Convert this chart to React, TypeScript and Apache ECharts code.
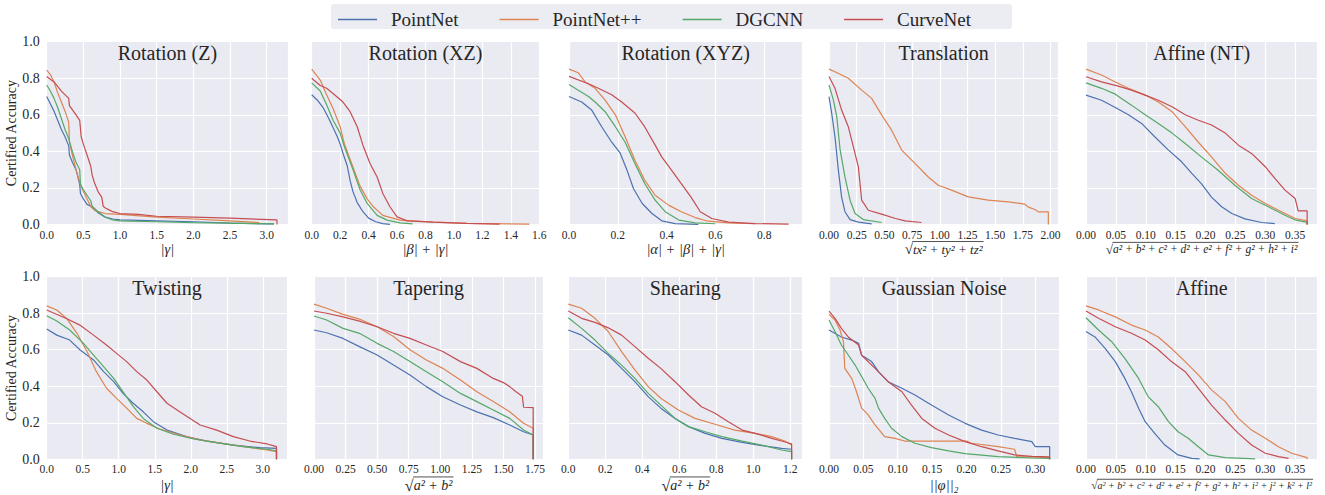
import React, { useEffect, useRef } from 'react';
import * as echarts from 'echarts';

const FONT = 'Liberation Serif';
const INK = '#262626';
const BG = '#EAEAF2';

const MODELS = ['PointNet', 'PointNet++', 'DGCNN', 'CurveNet'];
const COLORS = ['#4C72B0', '#DD8452', '#55A868', '#C44E52'];

const TITLES = [
  'Rotation (Z)', 'Rotation (XZ)', 'Rotation (XYZ)', 'Translation', 'Affine (NT)',
  'Twisting', 'Tapering', 'Shearing', 'Gaussian Noise', 'Affine',
];
const X_MAX = [3.29, 1.6, 0.956, 2.07, 0.387, 3.34, 1.816, 1.265, 0.335, 0.387];
const X_INTERVAL = [0.5, 0.2, 0.2, 0.25, 0.05, 0.5, 0.25, 0.2, 0.05, 0.05];
const X_DECIMALS = [1, 1, 1, 2, 2, 1, 2, 1, 2, 2];
const Y_TICKS = [0, 0.2, 0.4, 0.6, 0.8, 1.0];
const Y_LABEL = 'Certified Accuracy';

const X_LABELS = [
  { text: '|γ|', sqrt: false, size: 14.5 },
  { text: '|β| + |γ|', sqrt: false, size: 14.5 },
  { text: '|α| + |β| + |γ|', sqrt: false, size: 14.5 },
  { text: 'tx² + ty² + tz²', sqrt: true, size: 13 },
  { text: 'a² + b² + c² + d² + e² + f² + g² + h² + i²', sqrt: true, size: 11.5 },
  { text: '|γ|', sqrt: false, size: 14.5 },
  { text: 'a² + b²', sqrt: true, size: 14 },
  { text: 'a² + b²', sqrt: true, size: 14 },
  { text: '||φ||₂', sqrt: false, size: 14.5 },
  { text: 'a² + b² + c² + d² + e² + f² + g² + h² + i² + j² + k² + l²', sqrt: true, size: 10 },
];

// ---- Rotation (Z)
const rotZ_pn = [[0,0.70],[0.05,0.66],[0.1,0.62],[0.15,0.57],[0.2,0.52],[0.25,0.48],[0.3,0.43],[0.31,0.38],[0.35,0.34],[0.4,0.30],[0.45,0.22],[0.46,0.17],[0.5,0.14],[0.55,0.11],[0.6,0.10],[0.65,0.08],[0.7,0.065],[0.8,0.04],[0.9,0.03],[1.0,0.025],[1.5,0.02],[2.0,0.015],[2.5,0.008],[3.1,0.003]];
const rotZ_pnpp = [[0,0.845],[0.05,0.82],[0.1,0.78],[0.15,0.72],[0.2,0.67],[0.25,0.62],[0.3,0.56],[0.31,0.45],[0.35,0.38],[0.4,0.30],[0.45,0.23],[0.5,0.18],[0.55,0.14],[0.6,0.10],[0.65,0.08],[0.7,0.07],[0.8,0.06],[1.0,0.055],[1.5,0.04],[2.0,0.03],[2.5,0.02],[2.9,0.01]];
const rotZ_dg = [[0,0.763],[0.05,0.73],[0.1,0.69],[0.15,0.64],[0.2,0.58],[0.25,0.52],[0.3,0.47],[0.35,0.40],[0.4,0.34],[0.45,0.30],[0.46,0.22],[0.5,0.19],[0.55,0.16],[0.6,0.13],[0.62,0.10],[0.7,0.07],[0.8,0.04],[0.9,0.025],[1.0,0.02],[1.5,0.015],[2.0,0.01],[2.5,0.007],[3.1,0.003]];
const rotZ_cn = [[0,0.81],[0.1,0.78],[0.2,0.73],[0.3,0.69],[0.31,0.65],[0.4,0.60],[0.45,0.57],[0.47,0.48],[0.5,0.44],[0.55,0.38],[0.6,0.32],[0.62,0.27],[0.65,0.23],[0.7,0.18],[0.75,0.15],[0.77,0.10],[0.8,0.09],[0.85,0.08],[0.9,0.07],[1.0,0.06],[1.25,0.055],[1.5,0.045],[2.0,0.04],[2.5,0.035],[3.14,0.025],[3.14,0]];

// ---- Rotation (XZ)
const rotXZ_pn = [[0,0.71],[0.04,0.68],[0.08,0.64],[0.12,0.58],[0.15,0.53],[0.18,0.48],[0.2,0.44],[0.22,0.39],[0.25,0.32],[0.27,0.24],[0.29,0.18],[0.32,0.12],[0.36,0.07],[0.4,0.035],[0.45,0.015],[0.5,0.005],[0.55,0.001]];
const rotXZ_pnpp = [[0,0.85],[0.06,0.79],[0.105,0.71],[0.15,0.635],[0.2,0.535],[0.23,0.44],[0.29,0.315],[0.34,0.21],[0.39,0.14],[0.43,0.10],[0.5,0.05],[0.62,0.024],[0.85,0.013],[1.09,0.006],[1.53,0.002]];
const rotXZ_dg = [[0,0.775],[0.06,0.73],[0.105,0.655],[0.15,0.57],[0.2,0.50],[0.23,0.425],[0.29,0.30],[0.34,0.19],[0.39,0.115],[0.46,0.05],[0.53,0.024],[0.62,0.009],[0.71,0.003]];
const rotXZ_cn = [[0,0.80],[0.06,0.76],[0.105,0.745],[0.15,0.717],[0.22,0.67],[0.27,0.617],[0.32,0.535],[0.36,0.434],[0.41,0.334],[0.46,0.26],[0.5,0.17],[0.55,0.097],[0.6,0.042],[0.67,0.02],[0.855,0.013],[1.09,0.006],[1.32,0.002]];

// ---- Rotation (XYZ)
const rotXYZ_pn = [[0,0.70],[0.052,0.67],[0.093,0.626],[0.134,0.535],[0.175,0.45],[0.21,0.39],[0.237,0.30],[0.264,0.197],[0.3,0.115],[0.34,0.06],[0.38,0.02],[0.435,0.005],[0.53,0.001]];
const rotXYZ_pnpp = [[0,0.85],[0.038,0.83],[0.066,0.78],[0.107,0.745],[0.148,0.68],[0.19,0.6],[0.23,0.48],[0.27,0.352],[0.31,0.243],[0.353,0.16],[0.408,0.106],[0.46,0.07],[0.517,0.038],[0.57,0.018],[0.654,0.009],[0.76,0.004]];
const rotXYZ_dg = [[0,0.766],[0.038,0.735],[0.08,0.70],[0.107,0.67],[0.148,0.617],[0.19,0.535],[0.23,0.45],[0.27,0.334],[0.31,0.224],[0.353,0.133],[0.394,0.07],[0.45,0.024],[0.517,0.009],[0.6,0.004]];
const rotXYZ_cn = [[0,0.81],[0.08,0.77],[0.12,0.745],[0.175,0.71],[0.216,0.67],[0.27,0.61],[0.31,0.535],[0.353,0.434],[0.38,0.37],[0.42,0.297],[0.46,0.224],[0.5,0.15],[0.538,0.07],[0.585,0.033],[0.654,0.013],[0.763,0.005],[0.9,0.002]];

// ---- Translation
const trans_pn = [[0,0.70],[0.024,0.61],[0.054,0.48],[0.084,0.30],[0.114,0.15],[0.144,0.07],[0.19,0.027],[0.265,0.013],[0.385,0.003]];
const trans_pnpp = [[0,0.85],[0.054,0.836],[0.174,0.8],[0.295,0.735],[0.385,0.69],[0.475,0.6],[0.565,0.516],[0.656,0.407],[0.776,0.334],[0.896,0.26],[0.986,0.215],[1.107,0.188],[1.257,0.151],[1.437,0.133],[1.618,0.124],[1.768,0.111],[1.8,0.095],[1.86,0.082],[1.89,0.069],[1.98,0.069],[1.98,0]];
const trans_dg = [[0,0.763],[0.04,0.68],[0.07,0.59],[0.1,0.41],[0.144,0.26],[0.19,0.133],[0.235,0.06],[0.31,0.027],[0.475,0.011]];
const trans_cn = [[0,0.81],[0.054,0.745],[0.114,0.626],[0.174,0.535],[0.22,0.425],[0.265,0.315],[0.295,0.133],[0.355,0.078],[0.475,0.057],[0.6,0.033],[0.686,0.02],[0.836,0.011]];

// ---- Affine (NT)
const affNT_pn = [[0,0.708],[0.026,0.68],[0.049,0.64],[0.071,0.6],[0.093,0.553],[0.115,0.48],[0.138,0.407],[0.16,0.343],[0.177,0.28],[0.193,0.224],[0.21,0.15],[0.227,0.097],[0.244,0.06],[0.266,0.031],[0.294,0.011],[0.316,0.005]];
const affNT_pnpp = [[0,0.85],[0.026,0.818],[0.049,0.78],[0.071,0.745],[0.099,0.708],[0.121,0.67],[0.144,0.617],[0.166,0.535],[0.188,0.45],[0.21,0.37],[0.233,0.28],[0.255,0.215],[0.277,0.16],[0.3,0.115],[0.322,0.078],[0.35,0.033],[0.37,0.02],[0.37,0]];
const affNT_dg = [[0,0.775],[0.026,0.745],[0.049,0.713],[0.076,0.653],[0.099,0.6],[0.121,0.553],[0.144,0.5],[0.166,0.443],[0.193,0.37],[0.221,0.297],[0.249,0.215],[0.277,0.142],[0.305,0.097],[0.333,0.051],[0.35,0.025],[0.37,0.012],[0.37,0]];
const affNT_cn = [[0,0.808],[0.026,0.78],[0.054,0.757],[0.076,0.735],[0.099,0.708],[0.121,0.68],[0.144,0.644],[0.166,0.6],[0.188,0.57],[0.21,0.544],[0.233,0.5],[0.255,0.434],[0.277,0.389],[0.3,0.316],[0.316,0.252],[0.333,0.188],[0.35,0.142],[0.355,0.075],[0.37,0.075],[0.37,0]];

// ---- Twisting
const twist_pn = [[0,0.713],[0.14,0.68],[0.32,0.653],[0.46,0.6],[0.65,0.544],[0.79,0.48],[0.93,0.425],[1.06,0.361],[1.2,0.307],[1.34,0.26],[1.48,0.206],[1.67,0.16],[1.94,0.124],[2.22,0.1],[2.59,0.078],[2.96,0.064],[3.19,0.06],[3.19,0]];
const twist_pnpp = [[0,0.84],[0.14,0.818],[0.28,0.77],[0.42,0.69],[0.56,0.59],[0.69,0.48],[0.83,0.389],[0.97,0.334],[1.11,0.28],[1.25,0.224],[1.39,0.197],[1.57,0.166],[1.85,0.133],[2.13,0.106],[2.59,0.078],[3.06,0.051],[3.19,0.042],[3.19,0]];
const twist_dg = [[0,0.786],[0.14,0.757],[0.32,0.708],[0.51,0.635],[0.65,0.571],[0.79,0.507],[0.93,0.443],[1.06,0.37],[1.2,0.29],[1.34,0.224],[1.53,0.17],[1.76,0.137],[2.04,0.111],[2.36,0.091],[2.73,0.069],[3.06,0.055],[3.19,0.046],[3.19,0]];
const twist_cn = [[0,0.818],[0.28,0.77],[0.46,0.735],[0.65,0.68],[0.83,0.626],[0.97,0.58],[1.11,0.535],[1.25,0.48],[1.39,0.434],[1.53,0.37],[1.67,0.307],[1.81,0.27],[1.99,0.224],[2.13,0.188],[2.36,0.16],[2.59,0.124],[2.82,0.1],[3.06,0.084],[3.19,0.069],[3.19,0]];

// ---- Tapering
const taper_pn = [[0,0.708],[0.1,0.693],[0.23,0.662],[0.36,0.617],[0.5,0.571],[0.63,0.516],[0.76,0.462],[0.89,0.398],[1.02,0.343],[1.16,0.297],[1.29,0.26],[1.42,0.228],[1.55,0.188],[1.66,0.151],[1.736,0.133],[1.736,0]];
const taper_pnpp = [[0,0.85],[0.1,0.827],[0.23,0.794],[0.36,0.768],[0.5,0.726],[0.63,0.672],[0.76,0.6],[0.89,0.544],[1.02,0.498],[1.16,0.434],[1.29,0.37],[1.42,0.316],[1.55,0.26],[1.66,0.197],[1.736,0.17],[1.736,0]];
const taper_dg = [[0,0.785],[0.1,0.763],[0.23,0.717],[0.36,0.69],[0.5,0.635],[0.63,0.59],[0.76,0.535],[0.89,0.48],[1.02,0.425],[1.16,0.361],[1.29,0.316],[1.42,0.27],[1.55,0.224],[1.66,0.16],[1.736,0.133],[1.736,0]];
const taper_cn = [[0,0.812],[0.1,0.8],[0.23,0.78],[0.36,0.757],[0.5,0.726],[0.63,0.69],[0.76,0.662],[0.89,0.626],[1.02,0.59],[1.16,0.535],[1.29,0.498],[1.42,0.443],[1.5,0.42],[1.55,0.398],[1.6,0.37],[1.65,0.345],[1.66,0.285],[1.736,0.283],[1.736,0]];

// ---- Shearing
const shear_pn = [[0,0.708],[0.072,0.68],[0.144,0.626],[0.216,0.571],[0.288,0.498],[0.36,0.425],[0.432,0.343],[0.5,0.28],[0.577,0.224],[0.65,0.179],[0.74,0.142],[0.83,0.115],[0.94,0.093],[1.045,0.075],[1.153,0.06],[1.207,0.055],[1.207,0]];
const shear_pnpp = [[0,0.85],[0.072,0.827],[0.144,0.772],[0.216,0.7],[0.288,0.59],[0.36,0.49],[0.432,0.398],[0.5,0.334],[0.595,0.27],[0.685,0.224],[0.793,0.192],[0.9,0.16],[1.01,0.142],[1.1,0.124],[1.17,0.1],[1.207,0.078],[1.207,0]];
const shear_dg = [[0,0.775],[0.072,0.717],[0.144,0.653],[0.216,0.58],[0.288,0.516],[0.36,0.443],[0.432,0.361],[0.5,0.297],[0.577,0.224],[0.65,0.179],[0.74,0.151],[0.83,0.124],[0.94,0.1],[1.045,0.078],[1.153,0.051],[1.207,0.042],[1.207,0]];
const shear_cn = [[0,0.812],[0.072,0.772],[0.144,0.75],[0.216,0.72],[0.288,0.68],[0.36,0.617],[0.432,0.553],[0.5,0.498],[0.577,0.425],[0.65,0.352],[0.72,0.288],[0.793,0.252],[0.865,0.206],[0.94,0.16],[1.01,0.142],[1.1,0.115],[1.153,0.1],[1.207,0.085],[1.207,0]];

// ---- Gaussian Noise
const noise_pn = [[0,0.708],[0.018,0.67],[0.033,0.653],[0.043,0.635],[0.0475,0.57],[0.062,0.535],[0.072,0.48],[0.086,0.425],[0.106,0.389],[0.125,0.352],[0.149,0.297],[0.174,0.243],[0.198,0.197],[0.222,0.16],[0.246,0.133],[0.27,0.115],[0.295,0.097],[0.3,0.069],[0.321,0.069],[0.321,0]];
const noise_pnpp = [[0,0.794],[0.0087,0.763],[0.016,0.708],[0.021,0.644],[0.023,0.498],[0.033,0.443],[0.04,0.37],[0.0475,0.28],[0.057,0.243],[0.067,0.188],[0.081,0.124],[0.096,0.115],[0.11,0.1],[0.2,0.1],[0.207,0.088],[0.246,0.069],[0.27,0.055],[0.273,0.015],[0.3,0.012],[0.319,0.009],[0.321,0]];
const noise_dg = [[0,0.763],[0.0087,0.7],[0.018,0.626],[0.028,0.571],[0.038,0.516],[0.0475,0.453],[0.057,0.389],[0.067,0.334],[0.072,0.28],[0.081,0.224],[0.091,0.17],[0.106,0.124],[0.125,0.088],[0.149,0.064],[0.174,0.046],[0.198,0.031],[0.246,0.015],[0.295,0.007],[0.321,0.005]];
const noise_cn = [[0,0.812],[0.0087,0.772],[0.018,0.717],[0.028,0.67],[0.043,0.626],[0.0475,0.57],[0.067,0.498],[0.086,0.425],[0.106,0.37],[0.12,0.297],[0.135,0.224],[0.154,0.17],[0.174,0.133],[0.198,0.097],[0.222,0.069],[0.246,0.046],[0.27,0.024],[0.295,0.016],[0.321,0.013],[0.321,0]];

// ---- Affine
const aff_pn = [[0,0.7],[0.015,0.67],[0.032,0.607],[0.049,0.535],[0.065,0.443],[0.076,0.37],[0.088,0.28],[0.099,0.206],[0.115,0.142],[0.132,0.078],[0.154,0.024],[0.177,0.005],[0.19,0.002]];
const aff_pnpp = [[0,0.84],[0.021,0.818],[0.049,0.78],[0.076,0.735],[0.099,0.708],[0.121,0.67],[0.143,0.607],[0.166,0.535],[0.188,0.462],[0.21,0.38],[0.233,0.316],[0.255,0.224],[0.277,0.16],[0.3,0.115],[0.322,0.069],[0.344,0.033],[0.37,0.009],[0.37,0]];
const aff_dg = [[0,0.775],[0.021,0.708],[0.043,0.644],[0.065,0.553],[0.088,0.443],[0.104,0.343],[0.121,0.288],[0.138,0.206],[0.154,0.151],[0.171,0.115],[0.188,0.069],[0.205,0.024],[0.233,0.009],[0.283,0.002]];
const aff_cn = [[0,0.812],[0.021,0.772],[0.049,0.726],[0.076,0.69],[0.099,0.653],[0.121,0.6],[0.143,0.535],[0.166,0.48],[0.188,0.389],[0.21,0.297],[0.233,0.215],[0.255,0.142],[0.277,0.078],[0.3,0.033],[0.322,0.015],[0.339,0.005]];

const PANEL_DATA = [
  [rotZ_pn, rotZ_pnpp, rotZ_dg, rotZ_cn],
  [rotXZ_pn, rotXZ_pnpp, rotXZ_dg, rotXZ_cn],
  [rotXYZ_pn, rotXYZ_pnpp, rotXYZ_dg, rotXYZ_cn],
  [trans_pn, trans_pnpp, trans_dg, trans_cn],
  [affNT_pn, affNT_pnpp, affNT_dg, affNT_cn],
  [twist_pn, twist_pnpp, twist_dg, twist_cn],
  [taper_pn, taper_pnpp, taper_dg, taper_cn],
  [shear_pn, shear_pnpp, shear_dg, shear_cn],
  [noise_pn, noise_pnpp, noise_dg, noise_cn],
  [aff_pn, aff_pnpp, aff_dg, aff_cn],
];

// layout (pixels)
const GRID_LEFT = [46.7, 311.7, 569, 829, 1086, 46.7, 314, 568.3, 829, 1086];
const GRID_RIGHT = [288, 539.3, 802.3, 1058.3, 1317.3, 287.3, 543.3, 802.3, 1059.3, 1317.3];
const ROW_TOP = [41.7, 276.7];
const ROW_HEIGHT = [182.8, 182.6];
const TITLE_Y = [52.7, 287.7];
const XNAME_Y = [249, 485];

function textWidth(text: string, size: number, italic: boolean): number {
  const ctx = document.createElement('canvas').getContext('2d');
  if (!ctx) return text.length * size * 0.5;
  ctx.font = `${italic ? 'italic ' : ''}${size}px "${FONT}"`;
  return ctx.measureText(text).width;
}

function buildOption() {
  const grids: any[] = [];
  const xAxes: any[] = [];
  const yAxes: any[] = [];
  const series: any[] = [];
  const graphics: any[] = [];

  graphics.push({
    type: 'rect', z: 0,
    shape: { x: 331, y: 4, width: 681, height: 25, r: 3 },
    style: { fill: '#ECECF3' },
  });

  for (let i = 0; i < 10; i++) {
    const row = i < 5 ? 0 : 1;
    const left = GRID_LEFT[i];
    const width = GRID_RIGHT[i] - GRID_LEFT[i];
    const cx = left + width / 2;
    grids.push({
      left, top: ROW_TOP[row], width, height: ROW_HEIGHT[row],
      show: true, backgroundColor: BG, borderWidth: 0, containLabel: false,
    });
    const ratio = X_MAX[i] / X_INTERVAL[i];
    const maxIsTick = Math.abs(ratio - Math.round(ratio)) < 1e-6;
    const dec = X_DECIMALS[i];
    xAxes.push({
      type: 'value', gridIndex: i, min: 0, max: X_MAX[i], interval: X_INTERVAL[i],
      axisLine: { show: false }, axisTick: { show: false },
      splitLine: { show: true, lineStyle: { color: '#ffffff', width: 1.2 } },
      axisLabel: {
        show: true, margin: 4, fontSize: 11.5, fontFamily: FONT, color: INK,
        showMaxLabel: maxIsTick, showMinLabel: true,
        formatter: (v: number) => v.toFixed(dec),
      },
    });
    const firstCol = i === 0 || i === 5;
    yAxes.push({
      type: 'value', gridIndex: i, min: 0, max: 1, interval: 0.2,
      axisLine: { show: false }, axisTick: { show: false },
      splitLine: { show: true, lineStyle: { color: '#ffffff', width: 1.2 } },
      axisLabel: {
        show: firstCol, margin: 7, fontSize: 14, fontFamily: FONT, color: INK,
        formatter: (v: number) => (Y_TICKS.some((t) => Math.abs(t - v) < 1e-9) ? v.toFixed(1) : ''),
      },
      name: firstCol ? Y_LABEL : '',
      nameLocation: 'middle', nameGap: 26, nameRotate: 90,
      nameTextStyle: { fontSize: 14, fontFamily: FONT, color: INK },
    });
    for (let m = 0; m < 4; m++) {
      series.push({
        type: 'line', name: MODELS[m], xAxisIndex: i, yAxisIndex: i,
        data: PANEL_DATA[i][m], symbol: 'none', showSymbol: false, silent: true,
        lineStyle: { width: 1.2, color: COLORS[m] }, itemStyle: { color: COLORS[m] },
        z: 2 + m,
      });
    }
    // title
    graphics.push({
      type: 'text', z: 50, x: cx, y: TITLE_Y[row],
      style: { text: TITLES[i], fontSize: 20, fontFamily: FONT, fill: INK, align: 'center', verticalAlign: 'middle' },
    });
    // x-axis name
    const spec = X_LABELS[i];
    const yc = XNAME_Y[row];
    if (!spec.sqrt) {
      graphics.push({
        type: 'text', z: 50, x: cx, y: yc,
        style: { text: spec.text, fontSize: spec.size, fontStyle: 'italic', fontFamily: FONT, fill: INK, align: 'center', verticalAlign: 'middle' },
      });
    } else {
      const s = spec.size;
      const radW = textWidth(spec.text, s, true);
      const signSize = s * 1.15;
      const signW = textWidth('√', signSize, false);
      const total = signW + radW;
      const x0 = cx - total / 2;
      graphics.push({
        type: 'text', z: 50, x: x0, y: yc,
        style: { text: '√', fontSize: signSize, fontFamily: FONT, fill: INK, align: 'left', verticalAlign: 'middle' },
      });
      graphics.push({
        type: 'text', z: 50, x: x0 + signW, y: yc,
        style: { text: spec.text, fontSize: s, fontStyle: 'italic', fontFamily: FONT, fill: INK, align: 'left', verticalAlign: 'middle' },
      });
      const lineY = yc - signSize * 0.5;
      graphics.push({
        type: 'line', z: 50,
        shape: { x1: x0 + signW - 0.6, y1: lineY, x2: x0 + signW + radW + 1, y2: lineY },
        style: { stroke: INK, lineWidth: 0.8 },
      });
    }
  }

  return {
    animation: false,
    backgroundColor: '#ffffff',
    legend: {
      data: MODELS, left: 333, top: 5, icon: 'rect', itemWidth: 39, itemHeight: 1.6, itemGap: 41,
      selectedMode: false,
      textStyle: { fontSize: 19, fontFamily: FONT, color: INK, padding: [0, 0, 0, 9] },
    },
    grid: grids, xAxis: xAxes, yAxis: yAxes, series, graphic: graphics,
  };
}

export default function App() {
  const ref = useRef<HTMLDivElement>(null);
  useEffect(() => {
    if (!ref.current) return;
    const chart = echarts.init(ref.current, undefined, { renderer: 'svg' });
    chart.setOption(buildOption() as any);
    return () => chart.dispose();
  }, []);
  return (
    <div
      ref={ref}
      style={{ position: 'absolute', left: 0, top: 0, width: 1325, height: 495, background: '#fff' }}
    />
  );
}
